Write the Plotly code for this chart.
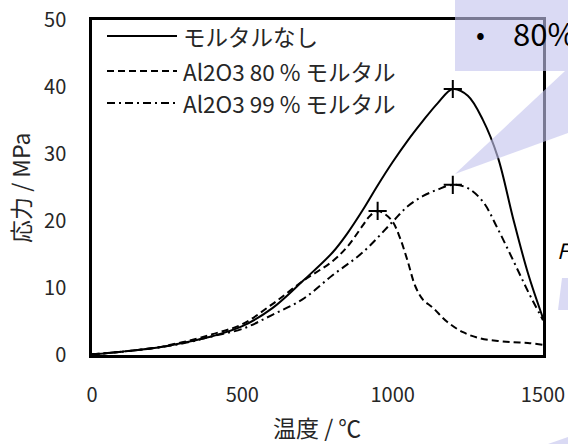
import plotly.graph_objects as go

# ---------------- data ----------------
temp = [0, 100, 200, 300, 400, 500, 600, 700, 800, 850, 900, 950, 1000, 1050,
        1100, 1150, 1200, 1250, 1300, 1350, 1400, 1450, 1500]
stress_none = [0.1, 0.5, 1.0, 1.8, 2.8, 4.3, 7.0, 11.0, 15.3, 18.2, 21.6, 25.3,
               28.8, 32.0, 34.9, 37.6, 39.7, 38.7, 35.1, 29.5, 20.5, 12.2, 5.5]

temp_80 = [0, 100, 200, 300, 400, 500, 600, 700, 800, 850, 900, 925, 950, 975,
           1000, 1025, 1050, 1075, 1100, 1135, 1180, 1234, 1290, 1350, 1400,
           1450, 1500]
stress_80 = [0.1, 0.5, 1.0, 1.9, 3.1, 4.6, 7.6, 11.0, 14.0, 16.2, 19.3, 20.8,
             21.5, 21.0, 19.9, 17.4, 14.0, 10.3, 8.3, 7.0, 5.0, 3.4, 2.5, 2.1,
             1.9, 1.8, 1.5]

temp_99 = [0, 100, 200, 300, 400, 500, 600, 700, 800, 900, 1000, 1050, 1100,
           1150, 1200, 1250, 1300, 1350, 1400, 1450, 1500]
stress_99 = [0.1, 0.5, 1.0, 1.7, 2.8, 3.9, 6.0, 8.3, 11.9, 15.3, 19.9, 22.2,
             23.7, 24.7, 25.4, 24.9, 22.9, 18.8, 14.2, 9.5, 5.2]

peak_temp = [1200, 950, 1200]
peak_stress = [39.7, 21.5, 25.4]

series_names = ["モルタルなし", "Al2O3 80 % モルタル", "Al2O3 99 % モルタル"]
series_dash = ["solid", "7px,4px", "8px,4px,2px,4px"]

x_ticks = [0, 500, 1000, 1500]
y_ticks = [0, 10, 20, 30, 40, 50]

FONT = "Noto Sans CJK JP"
TXT = "#262626"

# ---------------- figure ----------------
fig = go.Figure()
for xs, ys, name, dash in zip([temp, temp_80, temp_99],
                              [stress_none, stress_80, stress_99],
                              series_names, series_dash):
    fig.add_trace(go.Scatter(x=xs, y=ys, name=name, mode="lines",
                             line=dict(color="black", width=2, dash=dash,
                                       shape="spline", smoothing=1.0),
                             showlegend=False))

fig.add_trace(go.Scatter(x=peak_temp, y=peak_stress, mode="markers",
                         marker=dict(symbol="cross-thin", size=13,
                                     line=dict(color="black", width=2)),
                         showlegend=False, hoverinfo="skip"))

# plot area in pixels: x 92..543, y 20..355
L, R, T, B = 92, 543, 20, 355
W, H = 568, 444


def px(x):
    return (x - L) / (R - L)


def py(y):
    return (B - y) / (B - T)


shapes = []
annotations = []

# manual legend (long line samples, as in the reference)
leg_y = [36, 71, 103]
for name, dash, yy in zip(series_names, series_dash, leg_y):
    shapes.append(dict(type="line", xref="paper", yref="paper",
                       x0=px(107), x1=px(177), y0=py(yy), y1=py(yy),
                       line=dict(color="black", width=2, dash=dash)))
    annotations.append(dict(text=name, xref="paper", yref="paper",
                            x=px(181), y=py(yy), xanchor="left",
                            yanchor="middle", showarrow=False,
                            font=dict(family=FONT, size=22.5, color=TXT)))

# lavender callout overlay (slide decoration)
LAV = "rgba(196,196,238,0.62)"
shapes.append(dict(type="path", xref="paper", yref="paper", layer="above",
                   path=f"M {px(455)},{py(0)} L {px(568)},{py(0)} L {px(568)},{py(71)} L {px(455)},{py(71)} Z",
                   fillcolor=LAV, line=dict(width=0)))
shapes.append(dict(type="path", xref="paper", yref="paper", layer="above",
                   path=f"M {px(455)},{py(174)} L {px(565)},{py(71)} L {px(568)},{py(71)} L {px(568)},{py(133)} Z",
                   fillcolor=LAV, line=dict(width=0)))
shapes.append(dict(type="path", xref="paper", yref="paper", layer="above",
                   path=f"M {px(562)},{py(278)} L {px(568)},{py(278)} L {px(568)},{py(310)} L {px(558)},{py(310)} Z",
                   fillcolor=LAV, line=dict(width=0)))
shapes.append(dict(type="path", xref="paper", yref="paper", layer="above",
                   path=f"M {px(548)},{py(444)} L {px(568)},{py(437)} L {px(568)},{py(444)} Z",
                   fillcolor=LAV, line=dict(width=0)))

annotations.append(dict(text="•", xref="paper", yref="paper", x=px(480),
                        y=py(33), xanchor="center", yanchor="middle",
                        showarrow=False,
                        font=dict(family=FONT, size=26, color="black")))
annotations.append(dict(text="80%", xref="paper", yref="paper", x=px(511),
                        y=py(33), xanchor="left", yanchor="middle",
                        showarrow=False,
                        font=dict(family=FONT, size=31, color="black")))
annotations.append(dict(text="<i>F</i>", xref="paper", yref="paper", x=px(555),
                        y=py(250), xanchor="left", yanchor="middle",
                        showarrow=False,
                        font=dict(family=FONT, size=21, color="black")))

# axis titles as annotations for exact placement
annotations.append(dict(text="温度 / ℃", xref="paper", yref="paper",
                        x=px(317), y=py(427), xanchor="center",
                        yanchor="middle", showarrow=False,
                        font=dict(family=FONT, size=23, color=TXT)))
annotations.append(dict(text="応力 / MPa", xref="paper", yref="paper",
                        x=px(20), y=py(188), xanchor="center",
                        yanchor="middle", showarrow=False, textangle=-90,
                        font=dict(family=FONT, size=23, color=TXT)))

fig.update_layout(
    width=W, height=H,
    margin=dict(l=L, r=W - R, t=T, b=H - B, autoexpand=False),
    paper_bgcolor="white", plot_bgcolor="white",
    font=dict(family=FONT, size=20, color=TXT),
    shapes=shapes, annotations=annotations,
    showlegend=False,
)
fig.update_xaxes(range=[0, 1500], tickvals=x_ticks, showgrid=False,
                 zeroline=False, showline=True, linecolor="black",
                 linewidth=2.5, mirror=True, ticks="", ticklabelstandoff=20,
                 automargin=False)
fig.update_yaxes(range=[0, 50], tickvals=y_ticks, showgrid=False,
                 zeroline=False, showline=True, linecolor="black",
                 linewidth=2.5, mirror=True, ticks="", ticklabelstandoff=19,
                 automargin=False)

fig.write_html("out.html")
